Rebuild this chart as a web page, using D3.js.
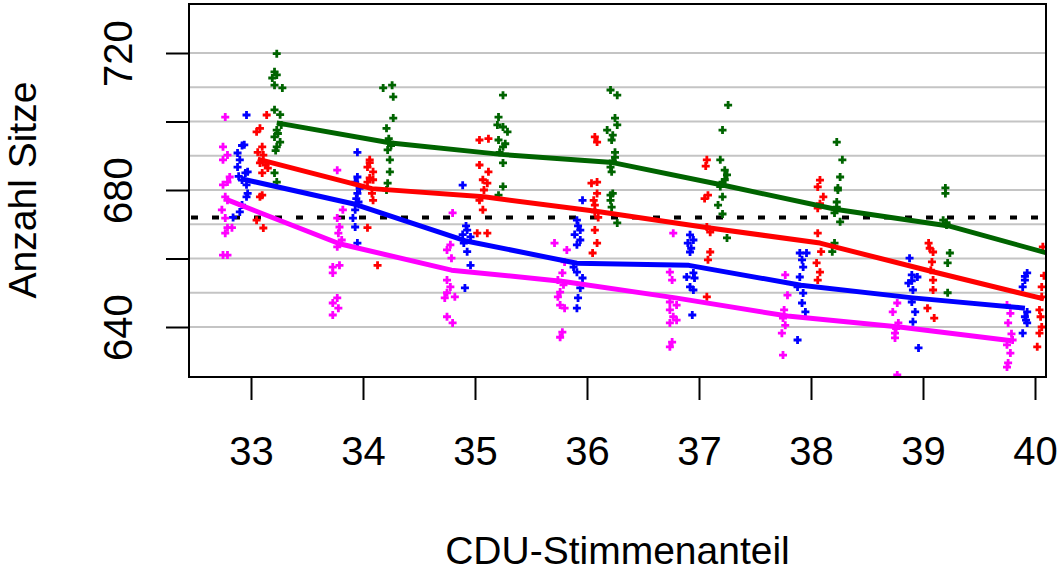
<!DOCTYPE html>
<html><head><meta charset="utf-8">
<script src="https://cdn.jsdelivr.net/npm/d3@7"></script>
<style>
html,body{margin:0;padding:0;background:#fff;}
svg{display:block;font-family:"Liberation Sans",Arial,sans-serif;}
</style></head>
<body>
<svg id="chart" width="1058" height="572"></svg>
<script>
// ---- data ----
const xTicks = [33, 34, 35, 36, 37, 38, 39, 40];
const yTicks = [640, 660, 680, 700, 720];
const yTickLabels = [640, 680, 720];
const gridValues = [640, 650, 660, 670, 680, 690, 700, 710, 720];
const thresholdValue = 672;
const xTitle = "CDU-Stimmenanteil";
const yTitle = "Anzahl Sitze";

const seriesNames = ["green", "red", "blue", "magenta"];
const seriesColors = ["#006400", "#ff0000", "#0000ff", "#ff00ff"];

// mean lines (x position, seats)
const greenLineX = [33.23, 34.25, 35.23, 36.23, 37.23, 38.23, 39.23, 40.23];
const greenLineY = [699.6, 693.7, 690.4, 688.0, 681.3, 674.3, 669.5, 660.5];
const redLineX = [33.06, 34.08, 35.08, 36.08, 37.08, 38.08, 39.08, 40.08];
const redLineY = [689.0, 680.4, 678.0, 673.8, 669.0, 664.5, 656.2, 648.2];
const blueLineX = [32.91, 33.91, 34.91, 35.91, 36.91, 37.91, 38.91, 39.91];
const blueLineY = [683.3, 676.0, 665.2, 658.6, 658.0, 652.2, 648.5, 645.5];
const magentaLineX = [32.79, 33.79, 34.79, 35.79, 36.79, 37.79, 38.79, 39.79];
const magentaLineY = [677.1, 664.3, 656.6, 653.3, 648.5, 643.2, 640.0, 636.0];

// simulated outcomes ([CDU share incl. jitter, seats])
const greenPoints = [
 [33.23,719.8],[33.21,714.5],[33.19,712.7],[33.23,713.6],[33.21,710.6],[33.28,709.8],[33.21,703.4],[33.26,702],
 [33.23,697.5],[33.21,695.5],[33.26,694],[33.23,692.6],[33.23,682.3],[33.21,685],[33.24,696.5],[33.27,699],[33.22,691.5],
 [34.18,709.8],[34.26,710.6],[34.27,707.2],[34.27,701],[34.21,698],[34.24,694],[34.22,691.7],[34.24,688.8],
 [34.24,685.3],[34.22,682],[34.21,680],[34.25,693],[34.23,695],
 [35.25,707.7],[35.21,701.3],[35.20,699],[35.25,698.4],[35.29,697],[35.21,694.6],[35.25,692.6],[35.22,691],
 [35.25,687.9],[35.25,681],[35.21,678.5],[35.27,693.5],
 [36.21,709.2],[36.27,707.7],[36.25,701],[36.27,699],[36.18,697.5],[36.23,696],[36.22,694.6],[36.25,691],
 [36.21,686.7],[36.22,685.3],[36.21,678.5],[36.23,679],[36.21,677],[36.22,675],[36.27,670.4],[36.23,688.5],[36.25,689.5],
 [37.26,704.8],[37.21,697.5],[37.19,688.8],[37.23,685.8],[37.25,684.4],[37.21,682.3],[37.19,681],[37.21,678],
 [37.17,675.6],[37.21,673],[37.25,666],[37.23,683],
 [38.23,694],[38.28,688.8],[38.26,683.8],[38.24,680.6],[38.24,680],[38.23,675],[38.21,673.3],[38.26,670.7],
 [38.21,664.5],[38.19,662],[38.23,676.5],
 [39.20,680.6],[39.20,679],[39.18,671.2],[39.21,669.8],[39.24,661.6],[39.22,658.7],[39.22,650],[39.21,670.5]
];
const redPoints = [
 [33.14,701.9],[33.08,698],[33.05,697],[33.10,692.6],[33.06,691],[33.11,690.2],[33.08,687.9],[33.13,687.3],
 [33.10,685],[33.15,686.4],[33.08,678],[33.11,668.9],[33.05,671.2],[33.10,678.5],
 [34.06,688.8],[34.04,686.7],[34.09,685.3],[34.06,683.5],[34.04,682.3],[34.08,679],[34.09,677],[34.04,669],
 [34.13,658],[34.06,688],[34.09,683],
 [35.04,694.6],[35.12,695],[35.04,687.3],[35.12,685.3],[35.07,683],[35.11,682],[35.04,677],[35.07,674.2],
 [35.02,667.4],[35.11,667.4],[35.08,680],
 [36.07,695.5],[36.09,694],[36.04,682],[36.09,682.3],[36.07,675.6],[36.07,673.6],[36.10,672],[36.07,668.3],
 [36.09,664.5],[36.05,661.6],[36.09,679],[36.06,677],
 [37.07,688.8],[37.08,678.5],[37.05,677.5],[37.07,669.2],[37.10,667.7],[37.10,661.9],[37.08,659.6],[37.07,648.8],[37.06,687],
 [38.08,682.9],[38.06,680.9],[38.11,678],[38.06,674.7],[38.06,667.4],[38.05,658.7],[38.08,656],[38.06,653.7],
 [38.08,676],[38.09,662],
 [39.05,664.5],[39.09,661.9],[39.07,656.6],[39.09,653.7],[39.09,650.8],[39.04,645.5],[39.10,642.6],[39.06,663],[39.08,659],
 [40.07,663.4],[40.06,651.7],[40.06,648.8],[40.04,645],[40.06,640],[40.04,638.2],[40.02,634.2],[40.08,655],[40.05,643]
];
const bluePoints = [
 [32.96,701.9],[32.92,693],[32.88,690.8],[32.90,688.8],[32.88,686.7],[32.95,685],[32.97,685.3],[32.92,682.9],
 [32.96,681.5],[32.97,679],[32.96,678],[32.92,675.6],[32.90,673.6],[32.84,672],[32.94,693.2],[32.89,684],
 [33.95,691],[33.95,683.8],[33.93,682.3],[33.95,679],[33.96,676.5],[33.93,674.2],[33.91,671.8],[33.93,669.2],
 [33.95,664.5],[33.97,680.5],[33.94,677.5],
 [34.89,681.4],[34.93,668.3],[34.89,667],[34.96,666.3],[34.93,662],[34.96,658],[34.91,651.4],[34.92,669.5],[34.90,664.5],
 [35.96,677],[35.91,671.2],[35.94,668.3],[35.89,667],[35.94,665.4],[35.91,664],[35.88,657.5],[35.91,656],
 [35.96,654.3],[35.94,651.4],[35.92,648.5],[35.91,645.5],[35.92,669.5],
 [36.92,666.9],[36.95,665.4],[36.90,664.5],[36.92,661.9],[36.95,655.8],[36.89,654.6],[36.96,654.3],[36.92,651.7],
 [36.95,650.8],[36.94,643.5],[36.93,663],
 [37.90,661.6],[37.96,661.6],[37.92,659.6],[37.93,657.5],[37.90,654.6],[37.88,651.7],[37.93,649.9],[37.92,647],
 [37.95,644.4],[37.88,636.2],
 [38.88,660.1],[38.90,655.2],[38.95,654.6],[38.87,652.8],[38.91,650.8],[38.90,647.3],[38.93,644.4],[38.91,641.5],
 [38.96,633.9],[38.90,653.5],
 [39.93,655.8],[39.91,653.7],[39.89,651.7],[39.93,644.4],[39.91,643],[39.93,641.2],[39.89,638.2],[39.91,654.8],[39.92,642]
];
const magentaPoints = [
 [32.77,701.3],[32.75,692.6],[32.75,688.8],[32.79,690.2],[32.79,682.3],[32.75,681.5],[32.81,683.8],[32.77,678],
 [32.79,677],[32.74,674.2],[32.77,671.8],[32.79,669],[32.77,667.4],[32.83,669],[32.79,661],[32.75,661],
 [33.77,671.8],[33.79,669.2],[33.78,667.4],[33.81,665.4],[33.77,663.4],[33.73,657.5],[33.79,658],[33.73,655.8],
 [33.77,648.5],[33.73,647],[33.78,645.5],[33.73,643.5],[33.77,685.8],[33.82,674.2],
 [34.80,673.3],[34.78,664],[34.75,662.5],[34.79,660.1],[34.75,653.7],[34.78,651.7],[34.75,650],[34.82,648.8],
 [34.73,648.5],[34.75,643],[34.80,641.2],
 [35.71,664.5],[35.82,662.5],[35.80,659],[35.78,655.8],[35.74,653.7],[35.79,652.3],[35.76,650.2],[35.74,648.8],
 [35.76,646.4],[35.80,645.5],[35.78,638.5],[35.76,637],
 [36.77,667.4],[36.74,656],[36.76,653.7],[36.74,647.3],[36.80,646.4],[36.74,645],[36.77,643],[36.80,642],
 [36.74,641.2],[36.76,635.6],[36.74,634.2],
 [37.77,655.2],[37.79,649.3],[37.75,642.6],[37.74,638.2],[37.75,631.8],[37.76,645],[37.77,640.5],
 [38.77,647],[38.73,644.4],[38.78,641.2],[38.75,638.2],[38.75,636.8],[38.77,626],[38.76,639.5],
 [39.75,646.4],[39.78,644],[39.76,641.2],[39.80,636.2],[39.75,634.8],[39.78,632.4],[39.76,629.5],[39.75,628.3],[39.79,638]
];

// ---- layout ----
const box = {left: 189, right: 1046, top: 4, bottom: 377};
const x = d3.scaleLinear().domain([33, 40]).range([251, 1035]);
const y = d3.scaleLinear().domain([640, 720]).range([327, 53]);

const svg = d3.select("#chart");
svg.append("defs").append("clipPath").attr("id", "plotclip")
  .append("rect").attr("x", box.left).attr("y", box.top)
  .attr("width", box.right - box.left).attr("height", box.bottom - box.top);

const plot = svg.append("g").attr("clip-path", "url(#plotclip)");

// grid
plot.selectAll("line.grid").data(gridValues).join("line")
  .attr("class", "grid")
  .attr("x1", box.left).attr("x2", box.right)
  .attr("y1", d => y(d)).attr("y2", d => y(d))
  .attr("stroke", "#c4c4c4").attr("stroke-width", 2);

// threshold dotted line
plot.append("line")
  .attr("x1", box.left + 2).attr("x2", box.right)
  .attr("y1", y(thresholdValue)).attr("y2", y(thresholdValue))
  .attr("stroke", "#000").attr("stroke-width", 4)
  .attr("stroke-dasharray", "7,14");

const series = [
  {pts: greenPoints, lx: greenLineX, ly: greenLineY},
  {pts: redPoints, lx: redLineX, ly: redLineY},
  {pts: bluePoints, lx: blueLineX, ly: blueLineY},
  {pts: magentaPoints, lx: magentaLineX, ly: magentaLineY}
];
const plusPath = "M-4,0H4M0,-4V4";
const line = d3.line().x(d => x(d[0])).y(d => y(d[1]));

series.forEach((s, i) => {
  const col = seriesColors[i];
  plot.append("g").attr("class", "pts-" + seriesNames[i])
    .selectAll("path").data(s.pts).join("path")
    .attr("d", plusPath)
    .attr("transform", d => `translate(${x(d[0])},${y(d[1])})`)
    .attr("stroke", col).attr("stroke-width", 2.8).attr("fill", "none");
});
series.forEach((s, i) => {
  const col = seriesColors[i];
  plot.append("path")
    .datum(s.lx.map((v, j) => [v, s.ly[j]]))
    .attr("d", line)
    .attr("fill", "none").attr("stroke", col).attr("stroke-width", 5)
    .attr("stroke-linejoin", "round");
});

// box
svg.append("rect")
  .attr("x", box.left).attr("y", box.top)
  .attr("width", box.right - box.left).attr("height", box.bottom - box.top)
  .attr("fill", "none").attr("stroke", "#000").attr("stroke-width", 2);

// x axis
const gx = svg.append("g").attr("transform", `translate(0,${box.bottom})`)
  .call(d3.axisBottom(x).tickValues(xTicks).tickFormat(d3.format("d")).tickSizeInner(23).tickSizeOuter(0));
gx.select(".domain").remove();
gx.selectAll(".tick line").attr("stroke", "#000").attr("stroke-width", 2);
gx.selectAll(".tick text").attr("y", 88).attr("dy", 0)
  .attr("font-size", 40).attr("fill", "#000")
  .attr("font-family", "'Liberation Sans', Arial, sans-serif");

// y axis
const gy = svg.append("g").attr("transform", `translate(${box.left},0)`)
  .call(d3.axisLeft(y).tickValues(yTicks)
    .tickFormat(d => yTickLabels.includes(d) ? String(d) : "")
    .tickSizeInner(23).tickSizeOuter(0));
gy.select(".domain").remove();
gy.selectAll(".tick line").attr("stroke", "#000").attr("stroke-width", 2);
gy.selectAll(".tick text")
  .attr("x", null).attr("dy", null)
  .attr("transform", "translate(-57,0) rotate(-90)")
  .attr("text-anchor", "middle")
  .attr("font-size", 40).attr("fill", "#000")
  .attr("font-family", "'Liberation Sans', Arial, sans-serif");

// titles
svg.append("text")
  .attr("x", (box.left + box.right) / 2).attr("y", 564)
  .attr("text-anchor", "middle").attr("font-size", 39).attr("fill", "#000")
  .text(xTitle);
svg.append("text")
  .attr("transform", `translate(36,${y(680)}) rotate(-90)`)
  .attr("text-anchor", "middle").attr("font-size", 39).attr("fill", "#000")
  .text(yTitle);
</script>
</body></html>
